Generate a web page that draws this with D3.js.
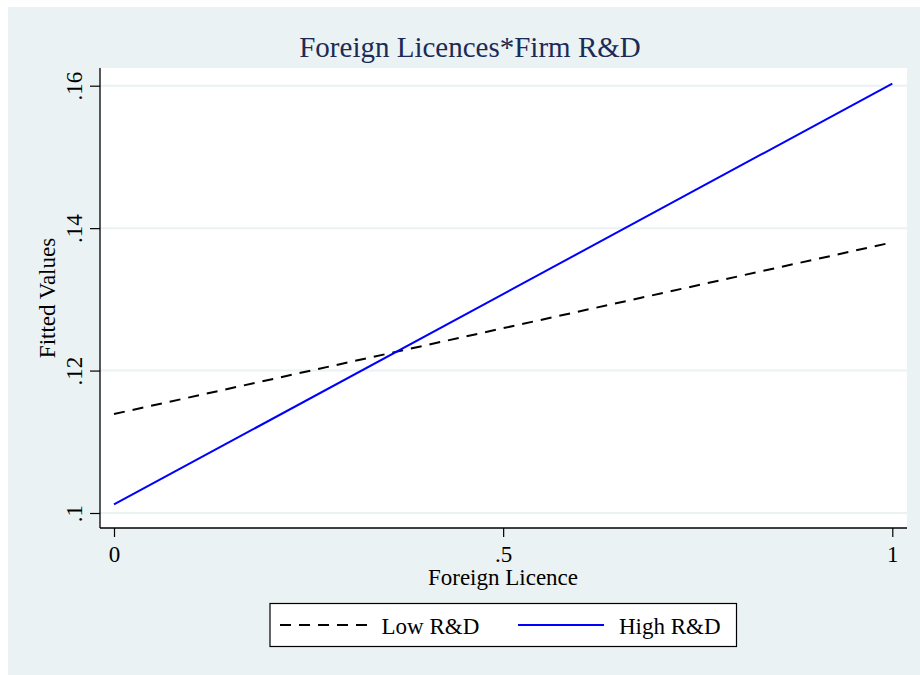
<!DOCTYPE html>
<html>
<head>
<meta charset="utf-8">
<script src="https://cdn.jsdelivr.net/npm/d3@7"></script>
<style>
html,body{margin:0;padding:0;background:#ffffff;}
svg{display:block;}
text{font-family:"Liberation Serif","Times New Roman",serif;}
</style>
</head>
<body>
<svg id="chart" width="920" height="675"></svg>
<script>
const xValues = [0, 1];
const lowRD = [0.1139, 0.1380];
const highRD = [0.1012, 0.1603];
const xTicks = [0, 0.5, 1];
const xTickLabels = ["0", ".5", "1"];
const yTicks = [0.10, 0.12, 0.14, 0.16];
const yTickLabels = [".1", ".12", ".14", ".16"];
const seriesNames = ["Low R&D", "High R&D"];
const titleText = "Foreign Licences*Firm R&D";
const xTitle = "Foreign Licence";
const yTitle = "Fitted Values";

const svg = d3.select("#chart");
const bg = "#EAF2F3";

svg.append("rect").attr("x", 8).attr("y", 7).attr("width", 912).attr("height", 668).attr("fill", bg);

const plot = {left: 100, right: 907, top: 68, bottom: 528};
svg.append("rect").attr("x", plot.left).attr("y", plot.top)
  .attr("width", plot.right - plot.left).attr("height", plot.bottom - plot.top).attr("fill", "#ffffff");

const x = d3.scaleLinear().domain([0, 1]).range([114, 892.3]);
const y = d3.scaleLinear().domain([0.10, 0.16]).range([513, 85.7]);

// gridlines
svg.append("g").selectAll("line").data(yTicks).join("line")
  .attr("x1", plot.left).attr("x2", plot.right)
  .attr("y1", d => y(d)).attr("y2", d => y(d))
  .attr("stroke", bg).attr("stroke-width", 2);

// y axis
const yAxis = d3.axisLeft(y).tickValues(yTicks).tickFormat((d, i) => yTickLabels[i]).tickSize(10).tickSizeOuter(0);
const gy = svg.append("g").attr("transform", `translate(${plot.left},0)`).call(yAxis);
gy.select(".domain").attr("d", `M0,${plot.top}V${plot.bottom}`).attr("stroke", "#000").attr("stroke-width", 1.3);
gy.selectAll(".tick line").attr("stroke", "#000").attr("stroke-width", 1.2);
gy.selectAll(".tick text")
  .attr("font-size", 23).attr("fill", "#000")
  .attr("x", null).attr("dy", null)
  .attr("text-anchor", "middle")
  .attr("transform", "translate(-18,0) rotate(-90)");

// x axis
const xAxis = d3.axisBottom(x).tickValues(xTicks).tickFormat((d, i) => xTickLabels[i]).tickSize(9).tickSizeOuter(0);
const gx = svg.append("g").attr("transform", `translate(0,${plot.bottom})`).call(xAxis);
gx.select(".domain").attr("d", `M${plot.left},0H${plot.right}`).attr("stroke", "#000").attr("stroke-width", 1.3);
gx.selectAll(".tick line").attr("stroke", "#000").attr("stroke-width", 1.2);
gx.selectAll(".tick text").attr("font-size", 23).attr("fill", "#000").attr("y", 34).attr("dy", null);

// lines
const line = d3.line().x((d, i) => x(xValues[i])).y(d => y(d));
svg.append("path").datum(lowRD).attr("d", line).attr("fill", "none")
  .attr("stroke", "#000").attr("stroke-width", 2).attr("stroke-dasharray", "11,8");
svg.append("path").datum(highRD).attr("d", line).attr("fill", "none")
  .attr("stroke", "#0000FF").attr("stroke-width", 2);

// titles
svg.append("text").attr("x", 470).attr("y", 57).attr("text-anchor", "middle")
  .attr("font-size", 29).attr("fill", "#1C2B55").text(titleText);
svg.append("text").attr("x", 503).attr("y", 585).attr("text-anchor", "middle")
  .attr("font-size", 23).attr("fill", "#000").text(xTitle);
svg.append("text").attr("transform", `translate(55,${(plot.top + plot.bottom) / 2}) rotate(-90)`)
  .attr("text-anchor", "middle").attr("font-size", 23).attr("fill", "#000").text(yTitle);

// legend
const lg = svg.append("g");
lg.append("rect").attr("x", 270).attr("y", 603.5).attr("width", 466.5).attr("height", 43)
  .attr("fill", "#fff").attr("stroke", "#000").attr("stroke-width", 1.2);
lg.append("line").attr("x1", 280).attr("x2", 368).attr("y1", 625).attr("y2", 625)
  .attr("stroke", "#000").attr("stroke-width", 2).attr("stroke-dasharray", "11,8");
lg.append("text").attr("x", 381.5).attr("y", 634).attr("font-size", 23).attr("fill", "#000").text(seriesNames[0]);
lg.append("line").attr("x1", 518).attr("x2", 604).attr("y1", 625).attr("y2", 625)
  .attr("stroke", "#0000FF").attr("stroke-width", 2);
lg.append("text").attr("x", 619).attr("y", 634).attr("font-size", 23).attr("fill", "#000").text(seriesNames[1]);
</script>
</body>
</html>
